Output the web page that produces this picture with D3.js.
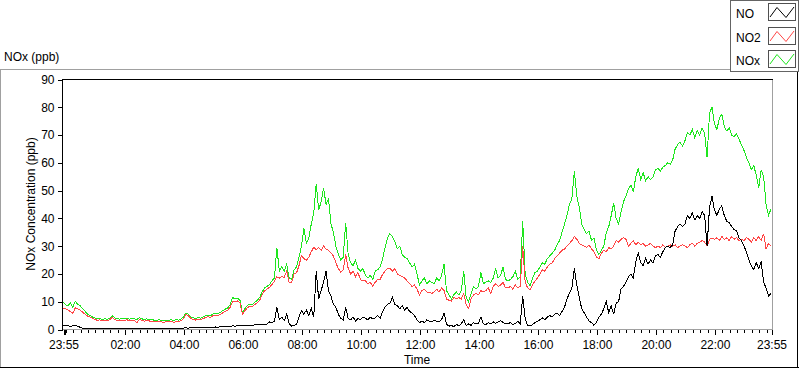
<!DOCTYPE html>
<html><head><meta charset="utf-8">
<script src="https://cdn.jsdelivr.net/npm/d3@7"></script>
<style>
html,body{margin:0;padding:0;background:#fff;}
svg{display:block;font-family:"Liberation Sans",Arial,sans-serif;font-size:12px;}
</style></head><body>
<svg id="c" width="800" height="369"></svg>
<script>
// ---- data (5-minute samples from 23:55 to 23:55 next day) ----
const seriesNames = ["NO", "NO2", "NOx"];
const yTicks = [0, 10, 20, 30, 40, 50, 60, 70, 80, 90];
const xTickLabels = ["23:55","02:00","04:00","06:00","08:00","10:00","12:00","14:00","16:00","18:00","20:00","22:00","23:55"];
const stepMinutes = 5;

const no = [
 1.5,1.3,1.4,1.1,1.3,1.4,1.2,0.8,0.5,0.4,0.3,0.3,0.3,
 0.3,0.2,0.3,0.2,0.2,0.3,0.2,0.3,0.2,0.3,0.3,0.2,
 0.3,0.2,0.3,0.3,0.2,0.3,0.4,0.3,0.3,0.4,0.3,0.3,
 0.4,0.3,0.4,0.5,0.4,0.3,0.5,0.4,0.5,0.4,0.5,0.5,
 0.5,0.6,0.5,0.6,0.7,0.6,0.7,0.6,0.8,0.7,0.8,0.8,
 0.8,0.9,0.8,1.0,0.9,1.1,1.0,1.2,1.3,1.2,1.4,1.3,
 1.4,1.5,1.4,1.6,1.5,1.7,1.6,1.8,1.9,1.7,2.0,2.7,
 2.5,3.0,8,3.5,4.4,3.2,5.5,2,1.2,1.5,1.8,4.5,
 6.8,5.5,7,5,7.7,4.4,21,11,14,17,21,14,
 12,9,8,5.5,4,3.5,8,4,3.5,4.5,3,4,
 3.5,4.5,4,3.5,4.5,3.8,4.2,5,4,6.5,8,9,
 9.5,11.5,9,8.5,7.5,8.5,7,8,6.5,6,5,3.5,
 2.5,3,2.5,3.5,3,2.8,3.2,3,2.8,3.5,6,2,
 1.2,1.5,1,1.8,1.4,2,3.5,1.5,2,1.5,2.5,2,
 2.2,4.5,2,1.8,2.5,2,2.8,2.2,2.8,3.2,2.5,2.2,
 2,2.5,1.8,2.2,3,2,12,4,1.5,1.2,1.8,2.5,
 3,3.5,4.2,3.5,4.5,5,4.5,5.5,6,5,6.5,8,
 11,13,15,22,16,11.5,7.5,6,4.5,3,2.5,1.5,
 2.5,4.5,5.5,7.5,10,6,8.5,5.5,9.5,10,14.5,15.5,
 17,19,20,18.5,24.5,27.5,24,23,25.5,23.5,25,24,
 26.5,27,26,28,29.5,30,29.5,30.5,35.5,37,38,37,
 38,41,40,42,39.5,41,40,42.5,41,30,44,48,
 43,41,43.5,44.5,41,39,38.5,37,36,35.5,33,32,
 30,28,25,23,21.5,24,22,24.5,17,15,12,13
];
const no2 = [
 7.5,7.5,7,6.5,5.8,7.8,7.5,7,6.2,5.5,4.8,4.5,4,
 3.6,3.3,3.5,3.1,3.4,3.2,3.5,4.4,3.6,3.3,3.1,3.4,
 3.3,3.5,3.1,3.4,3.2,2.4,3.6,3.3,3.0,3.2,3.1,2.9,
 2.9,2.7,3.0,2.8,2.4,2.9,2.8,3.1,2.5,2.9,2.9,3.2,
 3.9,5.4,5.0,4.0,3.6,3.4,3.7,3.5,3.9,4.3,4.6,4.4,
 5.0,5.1,5.0,5.5,6.0,6.5,7.0,8.0,10.2,10.0,10.3,9.5,
 5.5,6.8,7.8,8.4,8.2,9.0,9.6,10.5,12.5,14.0,14.5,15.2,
 16.2,17.3,19.0,18.5,19.0,18.8,21.0,17.0,16.8,20.0,20.4,23.0,
 26.6,25.5,25.0,26.0,28.0,29.6,28.7,29.5,28.5,30.0,29.0,28.5,
 27.5,26.5,24,22,20.5,21.5,27,22,20,21,19,20.5,
 18,17.5,17.5,16.5,17,15.5,17,18,18,19.9,21,22,
 22,21,22,20,19.5,19,18.5,17.5,16.5,15.5,16,14.5,
 12.5,14,14.5,13.5,13.5,13,13.5,14.5,13.5,15,14,11,
 10.5,10.2,11.5,11,11.5,11,13,9,7.5,11,12.5,13,
 12.5,14,13.5,14,15,13,15.5,16.5,15.5,16,17,15,
 15,15.5,14.5,16,15,15.5,30,17,15,14.4,16,17.5,
 18.5,20,21.5,21,22.5,23.5,24,25.5,26.5,27.5,28.5,29,
 30,31,32,33.5,32.5,31,30.5,30,29.5,30.5,29,28,
 26,25.5,27.5,28.5,28,29.5,29,30,32,31.5,32.5,33,
 32.5,30,31,32,30.5,31.5,30.5,31,30,30.5,31,30,
 29.5,30,29.5,30.5,29.5,30,30.5,30,30.5,29.5,30,30.5,
 30,29.5,30.5,31,30,31,31.5,32,31.5,30,32.5,33,
 32.5,33,32,33.5,32.5,33,32,33.5,32.5,33,32,32.5,
 32,33,32.5,31.5,33,32,33.5,32,34.5,29,31,30
];
const nox = [
 10,9,8.5,9.5,8,10.2,9,8.5,7.5,6.5,5.5,5,4.5,
 4.2,3.8,4.0,3.6,3.9,3.7,4.0,5.0,4.2,3.9,3.7,4.0,
 3.9,4.1,3.7,4.0,3.8,3.6,4.2,3.9,3.5,3.8,3.7,3.5,
 3.4,3.2,3.5,3.3,3.1,3.4,3.3,3.6,3.2,3.5,3.4,3.8,
 4.5,5.9,5.5,4.5,4.2,4.0,4.3,4.1,4.5,4.9,5.2,5.0,
 5.6,5.8,5.6,6.2,6.8,7.3,7.8,9.0,11.5,11.0,11.3,10.5,
 6.0,7.5,8.6,9.2,9.0,9.8,10.5,11.5,13.5,15,15.5,16.2,
 17.5,18.5,29.5,21,22.5,21,23.5,18.5,18,21.5,22.5,26,
 30,36.5,31,33,38,42,52.5,43,46,51,45,47,
 38,35,30,27,25,26,38.5,27,24,23,25,22,
 21,22,19.5,18.5,19.5,18,21,21.5,22.5,25.5,29.5,33,
 34.5,33.5,31.5,29,30,27,26,25.5,24,22.5,23.5,20,
 16,17.5,18.5,16.5,17.5,17,16.5,18.5,17.5,19.5,23.5,14,
 12.5,11,12.5,13.5,12.5,14,21,11.5,10,13,15.5,14.5,
 15.5,20.5,16.5,17,17.5,17,18.5,22,18.5,19.5,22.5,18,
 17.5,18,19,21,18,19,39,20,17,15.8,18.5,20.5,
 21,22.5,24,23.5,25.5,26.5,27.5,28.5,30.5,32,35,38,
 41,45,47,57,48,44,38,36,34.5,35.5,32,33,
 28.5,27,28.5,30,35,37,41,45.5,40,38,42.5,46,
 48,50.5,52,49.5,55,58,54,56.5,53.5,55,54,55,
 57.5,58,57,58.5,59,60,59.5,61,65,66.5,67.5,66,
 68,71,70,72,69,71.5,70,72.5,70.5,62,78,80,
 74,72,76,77.5,73,71.5,72.5,70,69.5,70.5,68.5,66.5,
 64.5,62,60,57.5,59,55.5,51,57.5,55,45,41,43.5
];

// ---- styling / layout ----
const colors = { NO: "#000000", NO2: "#ff4646", NOx: "#1ee61e" };
const plot = { left: 62, right: 772, top: 79, bottom: 329 };

const svg = d3.select("#c");
const start = new Date(2020, 0, 1, 23, 55);
const end = new Date(2020, 0, 2, 23, 55);
const timeAt = i => d3.timeMinute.offset(start, i * stepMinutes);

const x = d3.scaleTime().domain([start, end]).range([63, 771]);
const y = d3.scaleLinear().domain([0, 90]).range([329.5, 79.5]);

// outer frame
svg.append("line").attr("x1", 0).attr("x2", 731).attr("y1", 69.5).attr("y2", 69.5).attr("stroke", "#a0a0a0");
svg.append("line").attr("x1", 0.5).attr("x2", 0.5).attr("y1", 69).attr("y2", 368).attr("stroke", "#a0a0a0");
svg.append("line").attr("x1", 0).attr("x2", 799).attr("y1", 367.5).attr("y2", 367.5).attr("stroke", "#000");
svg.append("line").attr("x1", 797.5).attr("x2", 797.5).attr("y1", 72).attr("y2", 368).attr("stroke", "#000");

// title
svg.append("text").attr("x", 4).attr("y", 61).attr("fill", "#000").text("NOx (ppb)");

// plot background
svg.append("rect").attr("x", plot.left).attr("y", plot.top).attr("width", plot.right - plot.left).attr("height", plot.bottom - plot.top).attr("fill", "#fff");

// series lines
const data = { NO: no, NO2: no2, NOx: nox };
const line = d3.line().x((d, i) => x(timeAt(i))).y(d => y(d));
const clip = svg.append("clipPath").attr("id", "pc").append("rect")
  .attr("x", plot.left + 1).attr("y", plot.top).attr("width", plot.right - plot.left - 1).attr("height", plot.bottom - plot.top + 1);
const lg = svg.append("g").attr("clip-path", "url(#pc)");
["NOx", "NO2", "NO"].forEach(k => {
  lg.append("path").datum(data[k]).attr("d", line)
    .attr("fill", "none").attr("stroke", colors[k]).attr("stroke-width", 1)
    .attr("shape-rendering", "crispEdges");
});

// plot frame
svg.append("line").attr("x1", plot.left).attr("x2", plot.right + 1).attr("y1", plot.top + 0.5).attr("y2", plot.top + 0.5).attr("stroke", "#000");
svg.append("line").attr("x1", plot.left + 0.5).attr("x2", plot.left + 0.5).attr("y1", plot.top).attr("y2", plot.bottom + 1).attr("stroke", "#000");
svg.append("line").attr("x1", plot.right + 0.5).attr("x2", plot.right + 0.5).attr("y1", plot.top + 1).attr("y2", plot.bottom + 1).attr("stroke", "#a0a0a0");
svg.append("line").attr("x1", plot.left + 1).attr("x2", plot.right + 1).attr("y1", plot.bottom + 0.5).attr("y2", plot.bottom + 0.5).attr("stroke", "#a0a0a0");

// y axis
const yAxis = d3.axisLeft(y).tickValues(yTicks).tickSize(5).tickPadding(3).tickFormat(d3.format("d"));
const yg = svg.append("g").attr("transform", `translate(${plot.left + 0.5},0)`).call(yAxis);
yg.select(".domain").remove();
yg.selectAll(".tick line").attr("stroke", "#000").attr("shape-rendering", "crispEdges");
yg.selectAll("text").attr("font-family", "Liberation Sans, Arial, sans-serif").attr("font-size", 12).attr("fill", "#000");

// x axis: major ticks with labels
const majorTicks = xTickLabels.map((l, k) => {
  if (k === 0) return start;
  if (k === xTickLabels.length - 1) return end;
  const [hh, mm] = l.split(":").map(Number);
  return new Date(2020, 0, 2, hh, mm);
});
const xAxis = d3.axisBottom(x).tickValues(majorTicks).tickSize(5).tickPadding(5)
  .tickFormat((d, k) => xTickLabels[k]);
const xg = svg.append("g").attr("transform", `translate(0.5,${plot.bottom + 1})`).call(xAxis);
xg.select(".domain").remove();
xg.selectAll(".tick line").attr("stroke", "#000").attr("shape-rendering", "crispEdges");
xg.selectAll("text").attr("font-family", "Liberation Sans, Arial, sans-serif").attr("font-size", 12).attr("fill", "#000");

// minor ticks every 15 minutes
const minorTicks = d3.timeMinute.every(15).range(d3.timeMinute.offset(start, 5), end);
const xMinor = d3.axisBottom(x).tickValues(minorTicks).tickSize(3).tickFormat("");
const xm = svg.append("g").attr("transform", `translate(0.5,${plot.bottom + 1})`).call(xMinor);
xm.select(".domain").remove();
xm.selectAll(".tick line").attr("stroke", "#000").attr("shape-rendering", "crispEdges");
// 00:00 major tick (unlabeled)
svg.append("line").attr("x1", Math.round(x(new Date(2020,0,2,0,0))) + 0.5).attr("x2", Math.round(x(new Date(2020,0,2,0,0))) + 0.5)
  .attr("y1", plot.bottom + 1).attr("y2", plot.bottom + 6).attr("stroke", "#000").attr("shape-rendering", "crispEdges");

// axis titles
svg.append("text").attr("x", (plot.left + plot.right) / 2).attr("y", 364).attr("text-anchor", "middle").attr("fill", "#000").text("Time");
svg.append("text").attr("transform", `translate(35,${(plot.top + plot.bottom) / 2}) rotate(-90)`)
  .attr("text-anchor", "middle").attr("fill", "#000").text("NOx Concentration (ppb)");

// legend
const leg = svg.append("g");
leg.append("rect").attr("x", 730.5).attr("y", 0.5).attr("width", 68).attr("height", 71).attr("fill", "#fff").attr("stroke", "#646464");
seriesNames.forEach((name, k) => {
  const by = 3 + k * 23.5;
  leg.append("text").attr("x", 736).attr("y", by + 15).attr("fill", "#000").text(name);
  leg.append("rect").attr("x", 768.5).attr("y", Math.round(by) + 0.5).attr("width", 27).attr("height", 17)
    .attr("fill", "#fff").attr("stroke", "#505050");
  const bx = 768, byy = Math.round(by);
  const pts = [[2, 14], [9, 4.5], [18, 14.5], [26, 4]].map(p => [bx + p[0], byy + p[1]]);
  leg.append("path").attr("d", d3.line()(pts)).attr("fill", "none").attr("stroke", colors[name]).attr("stroke-width", 1);
});
</script>
</body></html>
